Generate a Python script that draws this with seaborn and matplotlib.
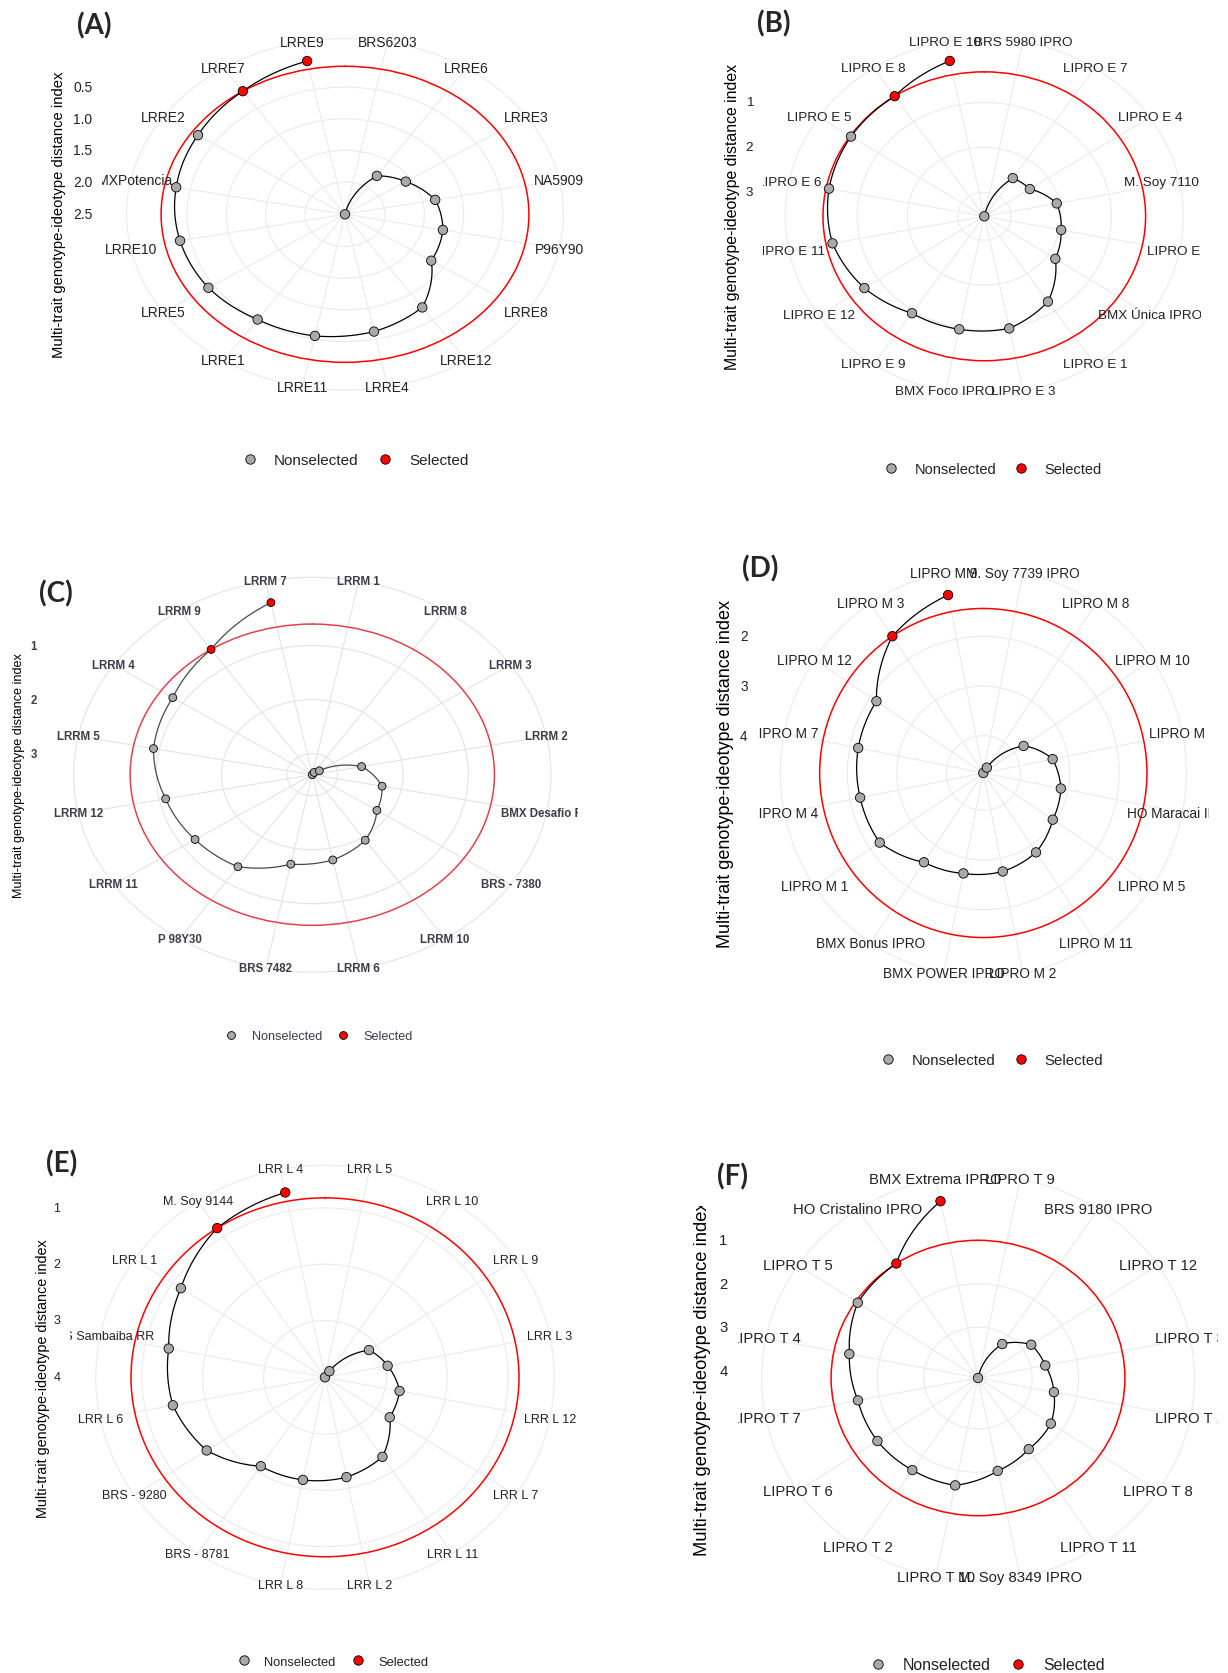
import numpy as np
import pandas as pd
import seaborn as sns
import matplotlib.pyplot as plt
from matplotlib.lines import Line2D
from matplotlib.transforms import Bbox, TransformedBbox

# genotypes in plot order (clockwise from the top), MGIDI
a_genotypes = ["BRS6203", "LRRE6", "LRRE3", "NA5909", "P96Y90", "LRRE8", "LRRE12", "LRRE4",
               "LRRE11", "LRRE1", "LRRE5", "LRRE10", "BMXPotencia", "LRRE2", "LRRE7", "LRRE9"]
a_mgidi = [2.51, 1.78, 1.58, 1.34, 1.24, 1.19, 0.74, 0.62, 0.55, 0.51, 0.42, 0.37, 0.32, 0.26, 0.17, 0.04]
a_selected = ["LRRE9", "LRRE7"]
a_breaks = [0.5, 1.0, 1.5, 2.0, 2.5]
a_break_labels = ["0.5", "1.0", "1.5", "2.0", "2.5"]

b_genotypes = ["BRS 5980 IPRO", "LIPRO E 7", "LIPRO E 4", "M. Soy 7110 IPRO", "LIPRO E 2",
               "BMX Única IPRO", "LIPRO E 1", "LIPRO E 3", "BMX Foco IPRO", "LIPRO E 9",
               "LIPRO E 12", "LIPRO E 11", "LIPRO E 6", "LIPRO E 5", "LIPRO E 8", "LIPRO E 10"]
b_mgidi = [3.53, 2.51, 2.44, 2.06, 1.97, 1.83, 1.25, 0.99, 0.97, 0.94, 0.66, 0.45, 0.38, 0.34, 0.32, 0.01]
b_selected = ["LIPRO E 10", "LIPRO E 8"]
b_breaks = [1, 2, 3]
b_break_labels = ["1", "2", "3"]

c_genotypes = ["LRRM 1", "LRRM 8", "LRRM 3", "LRRM 2", "BMX Desafio RR", "BRS - 7380", "LRRM 10",
               "LRRM 6", "BRS 7482", "P 98Y30", "LRRM 11", "LRRM 12", "LRRM 5", "LRRM 4", "LRRM 9", "LRRM 7"]
c_mgidi = [3.39, 3.34, 3.26, 2.62, 2.30, 2.20, 1.93, 1.78, 1.70, 1.34, 1.23, 1.10, 0.91, 0.82, 0.60, 0.14]
c_selected = ["LRRM 7", "LRRM 9"]
c_breaks = [1, 2, 3]
c_break_labels = ["1", "2", "3"]

d_genotypes = ["M. Soy 7739 IPRO", "LIPRO M 8", "LIPRO M 10", "LIPRO M 6", "HO Maracai IPRO",
               "LIPRO M 5", "LIPRO M 11", "LIPRO M 2", "BMX POWER IPRO", "BMX Bonus IPRO",
               "LIPRO M 1", "LIPRO M 4", "LIPRO M 7", "LIPRO M 12", "LIPRO M 3", "LIPRO M 9"]
d_mgidi = [4.75, 4.62, 3.77, 3.32, 3.15, 3.06, 2.83, 2.73, 2.69, 2.59, 2.23, 2.21, 2.17, 2.15, 1.44, 1.10]
d_selected = ["LIPRO M 9", "LIPRO M 3"]
d_breaks = [2, 3, 4]
d_break_labels = ["2", "3", "4"]

e_genotypes = ["LRR L 5", "LRR L 10", "LRR L 9", "LRR L 3", "LRR L 12", "LRR L 7", "LRR L 11",
               "LRR L 2", "LRR L 8", "BRS - 8781", "BRS - 9280", "LRR L 6", "BRS Sambaiba RR",
               "LRR L 1", "M. Soy 9144", "LRR L 4"]
e_mgidi = [4.01, 3.88, 3.14, 2.96, 2.76, 2.73, 2.31, 2.20, 2.15, 2.11, 1.67, 1.46, 1.39, 1.16, 0.82, 0.66]
e_selected = ["LRR L 4", "M. Soy 9144"]
e_breaks = [1, 2, 3, 4]
e_break_labels = ["1", "2", "3", "4"]

f_genotypes = ["LIPRO T 9", "BRS 9180 IPRO", "LIPRO T 12", "LIPRO T 3", "LIPRO T 1", "LIPRO T 8",
               "LIPRO T 11", "M. Soy 8349 IPRO", "LIPRO T 10", "LIPRO T 2", "LIPRO T 6", "LIPRO T 7",
               "LIPRO T 4", "LIPRO T 5", "HO Cristalino IPRO", "BMX Extrema IPRO"]
f_mgidi = [4.17, 3.23, 2.79, 2.69, 2.50, 2.28, 2.20, 1.99, 1.65, 1.62, 1.56, 1.53, 1.34, 1.05, 1.00, 0.02]
f_selected = ["BMX Extrema IPRO", "HO Cristalino IPRO"]
f_breaks = [1, 2, 3, 4]
f_break_labels = ["1", "2", "3", "4"]

TITLE = "Multi-trait genotype-ideotype distance index"
W, H = 1228, 1674

sns.set_style("white")
plt.rcParams["font.family"] = ["Liberation Sans", "DejaVu Sans"]

fig = plt.figure(figsize=(W / 100, H / 100), dpi=100)


def fx(x):
    return x / W


def fy(y):
    return 1 - y / H


def clip_to(artist, x0, y0, x1, y1):
    box = Bbox.from_extents(fx(x0), fy(y1), fx(x1), fy(y0))
    artist.set_clip_path(None)
    artist.set_clip_box(TransformedBbox(box, fig.transFigure))
    artist.set_clip_on(True)


def mgidi_panel(tag, genotypes, mgidi, selected, breaks, break_labels, lay):
    cx, cy, rx, ry = lay["cx"], lay["cy"], lay["rx"], lay["ry"]
    scan = lay.get("scan", False)
    red = "#e2424f" if scan else "red"
    linec = "#4a4a4a" if scan else "black"
    textc = "#3d3d4a" if scan else "#222222"
    gridc = "#e4e4e4" if scan else "#ebebeb"
    gray = "#a9a9a9"
    pts = lay.get("pts", 46)

    ax = fig.add_axes([fx(cx - rx), fy(cy + ry), 2 * rx / W, 2 * ry / H], projection="polar")
    ax.set_aspect("auto")
    ax.set_theta_zero_location("N")
    ax.set_theta_direction(-1)
    ax.set_facecolor("none")

    n = len(genotypes)
    theta = 2 * np.pi * (np.arange(n) + 0.5) / n
    df = pd.DataFrame({
        "theta": theta,
        "mgidi": mgidi,
        "status": ["Selected" if g in selected else "Nonselected" for g in genotypes],
    })
    cut = df.loc[df["status"] == "Selected", "mgidi"].max()

    ax.axhline(cut, color=red, lw=1.1, zorder=1.8)
    sns.lineplot(data=df, x="theta", y="mgidi", sort=False, estimator=None,
                 color=linec, lw=0.9, ax=ax, zorder=2, legend=False)
    # curve each segment in polar space like coord_polar does
    ax.get_lines()[-1].get_path()._interpolation_steps = 40
    sns.scatterplot(data=df, x="theta", y="mgidi", hue="status",
                    palette={"Nonselected": gray, "Selected": "red"},
                    s=pts, edgecolor="black", linewidth=0.6, legend=False, ax=ax, zorder=3)
    ax.set(xlabel="", ylabel="")

    top, low = max(mgidi), min(mgidi)
    outer = low - 0.125 * (top - low)
    ax.set_ylim(top, outer)
    ax.set_xticks(theta)
    ax.set_xticklabels([])
    ax.set_yticks(breaks)
    ax.set_yticklabels([])
    ax.grid(True, color=gridc, lw=0.8)
    ax.spines["polar"].set_color(gridc)
    ax.spines["polar"].set_linewidth(0.8)

    # genotype labels sit on the outer ring, clipped to the ggplot panel
    px0, px1 = cx - rx / 0.9, lay.get("clip_right", cx + rx / 0.9)
    py0, py1 = cy - ry / 0.9, cy + ry / 0.9
    for t, g in zip(theta, genotypes):
        txt = ax.text(t, outer, g, ha="center", va="center", fontsize=lay["fs"], color=textc,
                      fontweight="bold" if scan else "normal")
        clip_to(txt, px0, py0, px1, py1)

    for b, lab in zip(breaks, break_labels):
        _, yd = ax.transData.transform((0.0, b))
        fig.text(fx(px0 - 10), yd / H, lab, ha="right", va="center",
                 fontsize=lay["fs"], color=textc, fontweight="bold" if scan else "normal")

    title = fig.text(fx(lay["title_x"]), fy(cy), TITLE, rotation=90, ha="center", va="center",
                     fontsize=lay["title_fs"], color="black")
    if "title_top" in lay:
        clip_to(title, 0, lay["title_top"], W, H)

    ms = np.sqrt(pts)
    handles = [Line2D([], [], ls="none", marker="o", ms=ms, mfc=gray, mec="black", mew=0.6),
               Line2D([], [], ls="none", marker="o", ms=ms, mfc="red", mec="black", mew=0.6)]
    lx, ly = lay["leg"]
    leg = fig.legend(handles, ["Nonselected", "Selected"], loc="center",
                     bbox_to_anchor=(fx(lx), fy(ly)), ncol=2, frameon=False,
                     fontsize=lay["leg_fs"], handlelength=0.8, handletextpad=1.2,
                     columnspacing=1.3, borderpad=0, borderaxespad=0)
    for t in leg.get_texts():
        t.set_color(textc)

    tx, ty = lay["tag"]
    fig.text(fx(tx), fy(ty), tag, ha="center", va="center", fontsize=20,
             fontweight="bold", family=["Lato", "DejaVu Sans"])


layout = {
    "A": dict(cx=345, cy=215.3, rx=218.4, ry=175.8, fs=10, title_x=58.7, title_fs=10.6,
              leg=(356, 461), leg_fs=11, tag=(94, 25.6)),
    "B": dict(cx=984.3, cy=217.3, rx=199, ry=178.2, fs=9.7, title_x=732.5, title_fs=11.4,
              leg=(993.5, 470), leg_fs=10.5, tag=(774, 23.5), clip_right=1201),
    "C": dict(cx=312.3, cy=775.7, rx=238.7, ry=197.4, fs=8.3, title_x=19.2, title_fs=9.1,
              leg=(319.5, 1037), leg_fs=9.1, tag=(55.5, 593.7), scan=True, pts=32),
    "D": dict(cx=983.3, cy=774, rx=203, ry=204.1, fs=9.8, title_x=726, title_fs=13,
              leg=(992.5, 1061.4), leg_fs=10.8, tag=(760, 569)),
    "E": dict(cx=325, cy=1378.3, rx=229.2, ry=212, fs=9, title_x=42.7, title_fs=10.4,
              leg=(333.5, 1662.6), leg_fs=9.3, tag=(62, 1164)),
    "F": dict(cx=978, cy=1379, rx=216.4, ry=202.8, fs=10.7, title_x=702.6, title_fs=13.2,
              leg=(988, 1665.8), leg_fs=11.4, tag=(732.5, 1176.7), title_top=1207),
}

mgidi_panel("(A)", a_genotypes, a_mgidi, a_selected, a_breaks, a_break_labels, layout["A"])
mgidi_panel("(B)", b_genotypes, b_mgidi, b_selected, b_breaks, b_break_labels, layout["B"])
mgidi_panel("(C)", c_genotypes, c_mgidi, c_selected, c_breaks, c_break_labels, layout["C"])
mgidi_panel("(D)", d_genotypes, d_mgidi, d_selected, d_breaks, d_break_labels, layout["D"])
mgidi_panel("(E)", e_genotypes, e_mgidi, e_selected, e_breaks, e_break_labels, layout["E"])
mgidi_panel("(F)", f_genotypes, f_mgidi, f_selected, f_breaks, f_break_labels, layout["F"])

fig.savefig("out.png", dpi=100, facecolor="white")
